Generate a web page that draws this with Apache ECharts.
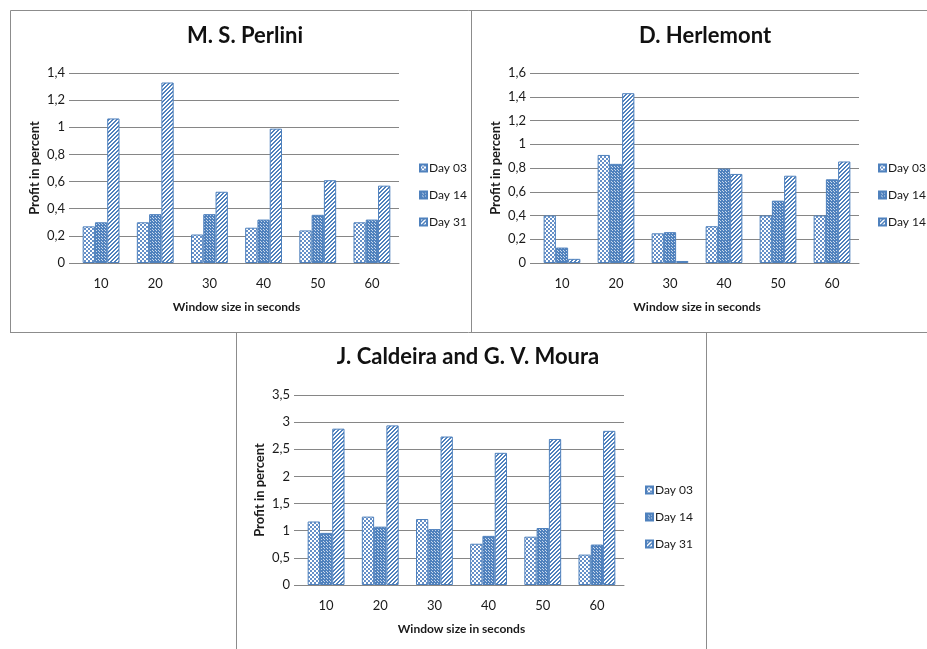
<!DOCTYPE html>
<html><head><meta charset="utf-8">
<script src="https://cdn.jsdelivr.net/npm/echarts@6/dist/echarts.min.js"></script>
<style>html,body{margin:0;padding:0;background:#fff}#c{width:927px;height:649px}</style>
</head><body><div id="c"></div>
<script>
// ---- data ----
const categories = ['10', '20', '30', '40', '50', '60'];

const perliniTitle = 'M. S. Perlini';
const perliniNames = ['Day 03', 'Day 14', 'Day 31'];
const perliniDay03 = [0.27, 0.30, 0.21, 0.26, 0.24, 0.30];
const perliniDay14 = [0.30, 0.36, 0.36, 0.32, 0.355, 0.32];
const perliniDay31 = [1.065, 1.33, 0.525, 0.99, 0.61, 0.57];

const herlemontTitle = 'D. Herlemont';
const herlemontNames = ['Day 03', 'Day 14', 'Day 14 '];
const herlemontDay03 = [0.40, 0.91, 0.25, 0.31, 0.40, 0.40];
const herlemontDay14 = [0.13, 0.835, 0.26, 0.795, 0.525, 0.705];
const herlemontDay14b = [0.035, 1.43, 0.017, 0.75, 0.735, 0.855];

const caldeiraTitle = 'J. Caldeira and G. V. Moura';
const caldeiraNames = ['Day 03', 'Day 14', 'Day 31'];
const caldeiraDay03 = [1.17, 1.26, 1.215, 0.76, 0.89, 0.56];
const caldeiraDay14 = [0.96, 1.075, 1.03, 0.905, 1.05, 0.745];
const caldeiraDay31 = [2.88, 2.94, 2.735, 2.435, 2.69, 2.84];

const yMax = [1.4, 1.6, 3.5];
const yStep = [0.2, 0.2, 0.5];
const xAxisName = 'Window size in seconds';
const yAxisName = 'Profit in percent';

// ---- patterns ----
const BLUE = '#4F81BD';
function makePattern(kind) {
  const c = document.createElement('canvas');
  const ctx = c.getContext('2d');
  if (kind === 0) {
    c.width = 4; c.height = 4;
    ctx.fillStyle = '#ffffff'; ctx.fillRect(0, 0, 4, 4);
    ctx.fillStyle = '#6690c8';
    ctx.fillRect(0, 0, 2, 2); ctx.fillRect(2, 2, 2, 2);
  } else if (kind === 1) {
    c.width = 3; c.height = 3;
    ctx.fillStyle = BLUE; ctx.fillRect(0, 0, 3, 3);
    ctx.fillStyle = '#c9d8ec'; ctx.fillRect(2, 1, 1, 1); ctx.fillRect(0, 2, 1, 1);
  } else {
    c.width = 4; c.height = 4;
    ctx.fillStyle = '#ffffff'; ctx.fillRect(0, 0, 4, 4);
    ctx.fillStyle = BLUE;
    for (let i = 0; i < 4; i++) {
      ctx.fillRect(i, 3 - i, 1, 1);
      ctx.fillRect((i + 1) % 4, 3 - i, 1, 1);
    }
  }
  return { image: c, repeat: 'repeat' };
}
const patterns = [makePattern(0), makePattern(1), makePattern(2)];

const FONT = 'Lato';
const TXT = '#1a1a1a';
const panels = [
  { title: perliniTitle, names: perliniNames, data: [perliniDay03, perliniDay14, perliniDay31],
    grid: { left: 74, top: 73, width: 325, height: 190 }, tx: 245, ty: 25, legend: { left: 419, top: 162 } },
  { title: herlemontTitle, names: herlemontNames, data: [herlemontDay03, herlemontDay14, herlemontDay14b],
    grid: { left: 535, top: 73, width: 324, height: 190 }, tx: 705, ty: 25, legend: { left: 878, top: 162 } },
  { title: caldeiraTitle, names: caldeiraNames, data: [caldeiraDay03, caldeiraDay14, caldeiraDay31],
    grid: { left: 299, top: 395, width: 325, height: 190 }, tx: 468, ty: 346, legend: { left: 645, top: 484 } }
];

const option = {
  animation: false,
  backgroundColor: '#ffffff',
  textStyle: { fontFamily: FONT },
  title: panels.map(p => ({
    text: p.title, left: p.tx, top: p.ty, textAlign: 'center', padding: 0,
    textStyle: { fontFamily: FONT, fontSize: 22, fontWeight: 'bold', color: '#111' }
  })),
  grid: panels.map(p => p.grid),
  legend: panels.map((p, i) => ({
    orient: 'vertical', left: p.legend.left, top: p.legend.top, padding: 0,
    data: p.names, itemWidth: 7, itemHeight: 7, itemGap: 15,
    icon: 'rect', selectedMode: false,
    textStyle: { fontFamily: FONT, fontSize: 12, color: TXT, padding: [0, 0, 0, -3] }
  })),
  xAxis: panels.map((p, i) => ({
    type: 'category', gridIndex: i, data: categories,
    name: xAxisName, nameLocation: 'middle', nameGap: 38,
    nameTextStyle: { fontFamily: FONT, fontSize: 12, fontWeight: 'bold', color: TXT },
    axisLine: { lineStyle: { color: '#868686' } },
    axisTick: { show: false },
    axisLabel: { fontFamily: FONT, fontSize: 13, color: TXT, margin: 14 }
  })),
  yAxis: panels.map((p, i) => ({
    type: 'value', gridIndex: i, min: 0, max: yMax[i], interval: yStep[i],
    name: yAxisName, nameLocation: 'middle', nameGap: 33,
    nameTextStyle: { fontFamily: FONT, fontSize: 13, fontWeight: 'bold', color: TXT },
    axisLine: { show: false },
    axisTick: { show: true, length: 5, lineStyle: { color: '#868686' } },
    splitLine: { lineStyle: { color: '#868686', width: 1 } },
    axisLabel: { fontFamily: FONT, fontSize: 13, color: TXT, margin: 9,
      formatter: v => String(Math.round(v * 10) / 10).replace('.', ',') }
  })),
  series: [],
  graphic: [
    { type: 'polyline', shape: { points: [[10.5, 332.5], [10.5, 10.5], [927, 10.5]] }, style: { stroke: '#8c8c8c', fill: null, lineWidth: 1 } },
    { type: 'line', shape: { x1: 471.5, y1: 10, x2: 471.5, y2: 332 }, style: { stroke: '#8c8c8c', lineWidth: 1 } },
    { type: 'line', shape: { x1: 10, y1: 332.5, x2: 927, y2: 332.5 }, style: { stroke: '#8c8c8c', lineWidth: 1 } },
    { type: 'line', shape: { x1: 236.5, y1: 332, x2: 236.5, y2: 649 }, style: { stroke: '#8c8c8c', lineWidth: 1 } },
    { type: 'line', shape: { x1: 706.5, y1: 332, x2: 706.5, y2: 649 }, style: { stroke: '#8c8c8c', lineWidth: 1 } }
  ]
};

panels.forEach((p, i) => {
  p.data.forEach((vals, k) => {
    option.series.push({
      type: 'bar', name: p.names[k], xAxisIndex: i, yAxisIndex: i,
      data: vals, barGap: '0%', barCategoryGap: '32%',
      itemStyle: { color: patterns[k], borderColor: BLUE, borderWidth: 1 }
    });
  });
});

const chart = echarts.init(document.getElementById('c'), null, { renderer: 'canvas' });
chart.setOption(option);
</script>
</body></html>
